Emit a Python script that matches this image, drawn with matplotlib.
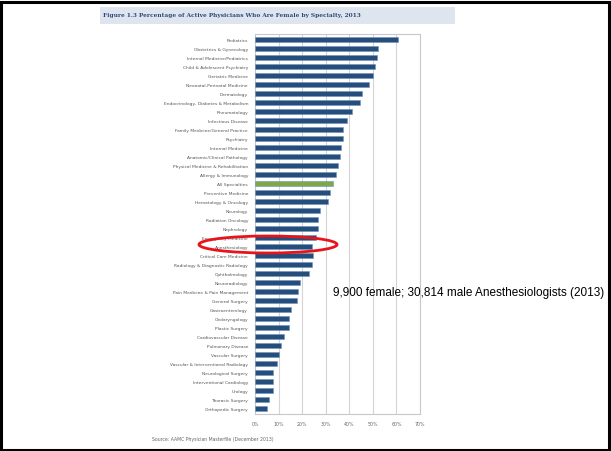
import matplotlib
matplotlib.use("Agg")
import matplotlib.pyplot as plt
from matplotlib.patches import Rectangle, Ellipse

# ── data ─────────────────────────────────────────────────────────────────────
specialties = [
    "Pediatrics", "Obstetrics & Gynecology", "Internal Medicine/Pediatrics",
    "Child & Adolescent Psychiatry", "Geriatric Medicine",
    "Neonatal-Perinatal Medicine", "Dermatology",
    "Endocrinology, Diabetes & Metabolism", "Rheumatology", "Infectious Disease",
    "Family Medicine/General Practice", "Psychiatry", "Internal Medicine",
    "Anatomic/Clinical Pathology", "Physical Medicine & Rehabilitation",
    "Allergy & Immunology", "All Specialties", "Preventive Medicine",
    "Hematology & Oncology", "Neurology", "Radiation Oncology", "Nephrology",
    "Emergency Medicine", "Anesthesiology", "Critical Care Medicine",
    "Radiology & Diagnostic Radiology", "Ophthalmology", "Neuroradiology",
    "Pain Medicine & Pain Management", "General Surgery", "Gastroenterology",
    "Otolaryngology", "Plastic Surgery", "Cardiovascular Disease",
    "Pulmonary Disease", "Vascular Surgery",
    "Vascular & Interventional Radiology", "Neurological Surgery",
    "Interventional Cardiology", "Urology", "Thoracic Surgery",
    "Orthopedic Surgery",
]
pct_female = [
    60.8, 52.3, 51.6, 50.9, 49.9, 48.4, 45.4, 44.5, 41.3, 39.0,
    37.5, 37.5, 36.4, 36.2, 35.1, 34.2, 33.1, 31.8, 30.8, 27.6,
    26.9, 26.6, 25.9, 24.3, 24.5, 24.2, 22.8, 19.1, 18.1, 17.7,
    15.3, 14.6, 14.6, 12.4, 11.0, 10.2, 9.5, 7.8, 7.6, 7.6,
    5.8, 5.0,
]
highlight = "All Specialties"
x_ticks = [0, 10, 20, 30, 40, 50, 60, 70]

TITLE = "Figure 1.3 Percentage of Active Physicians Who Are Female by Specialty, 2013"
SOURCE = "Source: AAMC Physician Masterfile (December 2013)"
NOTE = "9,900 female; 30,814 male Anesthesiologists (2013)"

W, H = 611, 452
fig = plt.figure(figsize=(W / 100, H / 100), dpi=100)
fig.patch.set_facecolor("white")


def fx(px):
    return px / W


def fy(py):
    return 1 - py / H


# slide frame
fig.patches.append(Rectangle((0.001, 0.003), 0.996, 0.99, transform=fig.transFigure,
                             fill=False, ec="black", lw=2.2))

# embedded chart: title strip
fig.patches.append(Rectangle((fx(100), fy(25)), fx(355), 17 / H,
                             transform=fig.transFigure, fc="#dfe5ee", ec="none"))
fig.text(fx(103), fy(16), TITLE, fontsize=4.2, fontweight="bold",
         family="DejaVu Serif", color="#2c4a78", va="center", ha="left")

# bar panel
ax = fig.add_axes([fx(255), fy(415), fx(165), 380 / H])
ypos = list(range(len(specialties)))
colors = ["#7aa84a" if s == highlight else "#254e7c" for s in specialties]
ax.barh(ypos, pct_female, height=0.6, color=colors, edgecolor="#6f93bd",
        linewidth=0.4, zorder=3)
ax.set_xlim(0, 70)
ax.set_ylim(len(specialties) - 0.4, -0.6)
ax.set_xticks(x_ticks)
ax.set_xticklabels([f"{t}%" for t in x_ticks])
ax.set_yticks(ypos)
ax.set_yticklabels(specialties)
ax.tick_params(axis="y", length=0, pad=5, labelsize=3.2, labelcolor="#555555")
ax.tick_params(axis="x", length=0, pad=5, labelsize=3.4, labelcolor="#666666")
ax.grid(axis="x", color="#d4d4d4", lw=0.8, zorder=0)
for sp in ax.spines.values():
    sp.set_color("#c8c8c8")
    sp.set_linewidth(0.8)

fig.text(fx(152), fy(440), SOURCE, fontsize=3.3, color="#666666", va="center")

# highlight + annotation
fig.patches.append(Ellipse((fx(268), fy(245.5)), fx(138), 17 / H,
                           transform=fig.transFigure, fill=False,
                           ec="#e8141b", lw=2.0))
fig.text(fx(333), fy(293), NOTE, fontsize=8.5, family="Liberation Sans",
         color="black", va="center", ha="left")

fig.savefig("out.png", dpi=100)
